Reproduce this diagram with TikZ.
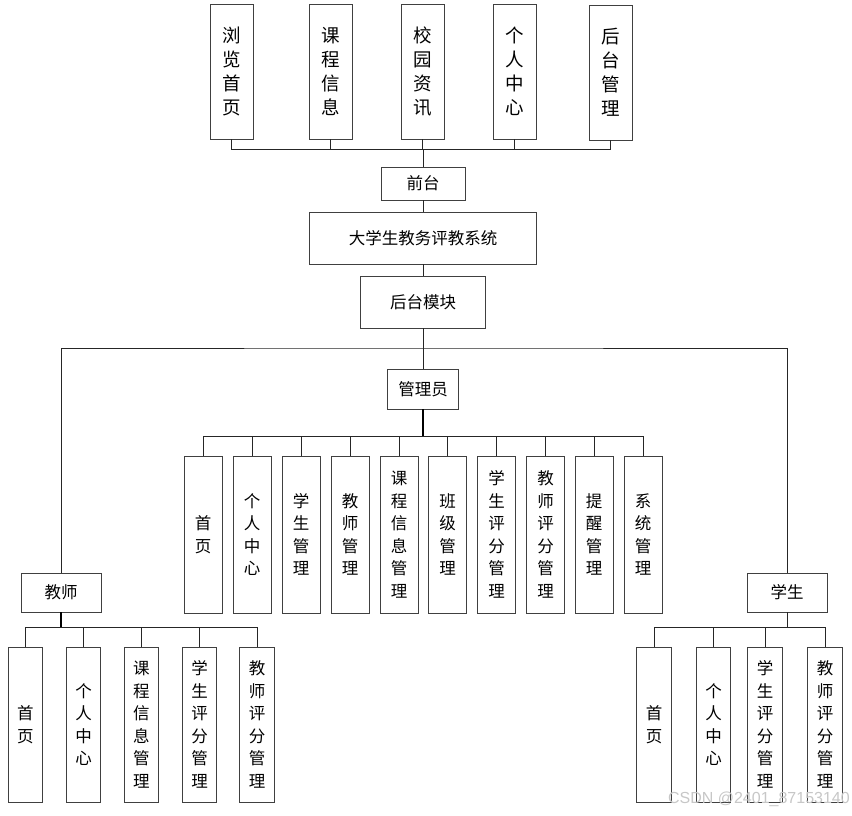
\documentclass[tikz,border=0pt]{standalone}
\usepackage{fontspec}
\newfontfamily\cjk{Noto Sans CJK SC}
\newfontfamily\wmfont{Liberation Sans}
\definecolor{bordergray}{HTML}{404040}
\begin{document}
\begin{tikzpicture}[x=1pt,y=-1pt,
  box/.style={draw=bordergray,line width=0.9pt,fill=white,inner sep=0pt,align=center,text=black},
  topbox/.style={box,minimum width=43pt,minimum height=135pt,font=\cjk\fontsize{18.5}{24}\selectfont},
  hbox/.style={box,font=\cjk\fontsize{16.5}{20}\selectfont},
  abox/.style={box,minimum width=38pt,minimum height=157pt,font=\cjk\fontsize{16.5}{22.5}\selectfont},
  cbox/.style={box,minimum width=34.5pt,minimum height=155pt,font=\cjk\fontsize{16.5}{22.5}\selectfont},
  conn/.style={draw=black!85,line width=0.9pt},
  thick conn/.style={draw=black,line width=1.6pt}]
\useasboundingbox (0,0) rectangle (852,815);
% top row
\node[topbox] (t1) at (231.5,71.5) {浏\\览\\首\\页};
\node[topbox] (t2) at (330.5,71.5) {课\\程\\信\\息};
\node[topbox] (t3) at (422.5,71.5) {校\\园\\资\\讯};
\node[topbox] (t4) at (514.5,71.5) {个\\人\\中\\心};
\node[topbox] (t5) at (610.5,72.5) {后\\台\\管\\理};
\node[hbox,minimum width=84pt,minimum height=33pt] (qt) at (423,183.5) {前台};
\node[hbox,minimum width=227pt,minimum height=52pt] (sys) at (423,238) {大学生教务评教系统};
\node[hbox,minimum width=125pt,minimum height=52pt] (hm) at (423,302) {后台模块};
\node[hbox,minimum width=71pt,minimum height=40pt] (gly) at (423,389) {管理员};
\node[hbox,minimum width=80pt,minimum height=39pt] (js) at (61,592.5) {教师};
\node[hbox,minimum width=80pt,minimum height=39pt] (xs) at (787,592.5) {学生};
\coordinate (busc) at (423,149);
\coordinate (mid) at (423,348);
\coordinate (ab) at (423,436);
\coordinate (tb) at (61,627);
\coordinate (sb) at (787,627);
% admin children
\node[abox] (a1) at (203,534.5) {首\\页};
\node[abox] (a2) at (252,534.5) {个\\人\\中\\心};
\node[abox] (a3) at (301,534.5) {学\\生\\管\\理};
\node[abox] (a4) at (350,534.5) {教\\师\\管\\理};
\node[abox] (a5) at (399,534.5) {课\\程\\信\\息\\管\\理};
\node[abox] (a6) at (447.5,534.5) {班\\级\\管\\理};
\node[abox] (a7) at (496.5,534.5) {学\\生\\评\\分\\管\\理};
\node[abox] (a8) at (545.5,534.5) {教\\师\\评\\分\\管\\理};
\node[abox] (a9) at (594,534.5) {提\\醒\\管\\理};
\node[abox] (a10) at (643,534.5) {系\\统\\管\\理};
% teacher children
\node[cbox] (c1) at (25.3,724.5) {首\\页};
\node[cbox] (c2) at (83.5,724.5) {个\\人\\中\\心};
\node[cbox] (c3) at (141.3,724.5) {课\\程\\信\\息\\管\\理};
\node[cbox] (c4) at (199.5,724.5) {学\\生\\评\\分\\管\\理};
\node[cbox] (c5) at (257,724.5) {教\\师\\评\\分\\管\\理};
% student children
\node[cbox] (s1) at (654,724.5) {首\\页};
\node[cbox] (s2) at (713.5,724.5) {个\\人\\中\\心};
\node[cbox] (s3) at (765,724.5) {学\\生\\评\\分\\管\\理};
\node[cbox] (s4) at (825,724.5) {教\\师\\评\\分\\管\\理};
% connectors
\foreach \n in {t1,t2,t3,t4,t5} \draw[conn] (\n.south) |- (busc);
\draw[conn] (busc) -- (qt.north);
\draw[conn] (qt.south) -- (sys.north);
\draw[conn] (sys.south) -- (hm.north);
\draw[conn] (hm.south) -- (gly.north);
\draw[conn] (js.north) |- (mid) -| (xs.north);
\draw[thick conn] (gly.south) -- (ab);
\foreach \n in {a1,a2,a3,a4,a5,a6,a7,a8,a9,a10} \draw[conn] (\n.north) |- (ab);
\draw[thick conn] (js.south) -- (tb);
\foreach \n in {c1,c2,c3,c4,c5} \draw[conn] (\n.north) |- (tb);
\draw[conn] (xs.south) -- (sb);
\foreach \n in {s1,s2,s3,s4} \draw[conn] (\n.north) |- (sb);
% watermark
\node[anchor=east,text=black!22,font=\wmfont\fontsize{16}{18}\selectfont,inner sep=0pt] (wm) at (850,799) {CSDN @2401\_87153140};
\end{tikzpicture}
\end{document}
